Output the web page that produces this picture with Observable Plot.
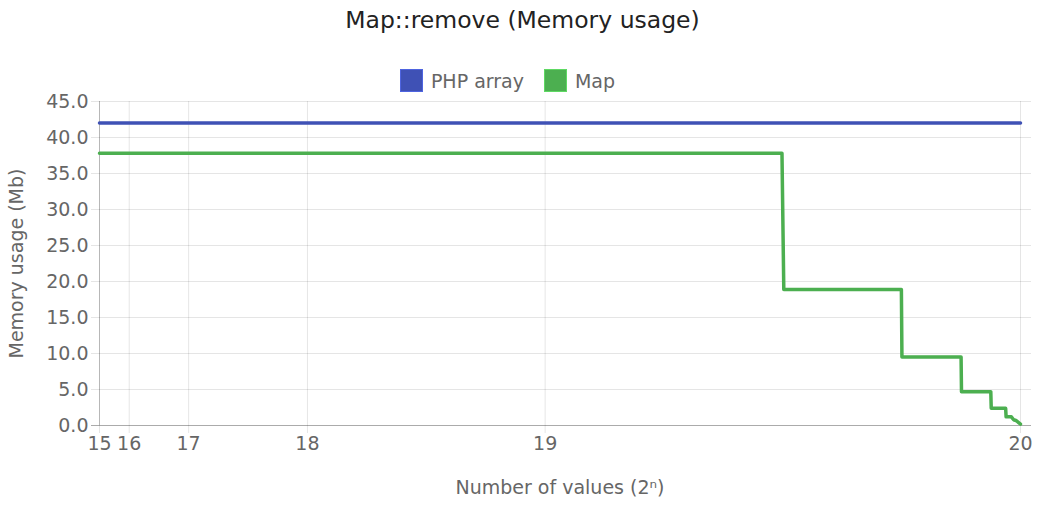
<!DOCTYPE html>
<html>
<head>
<meta charset="utf-8">
<script src="https://cdn.jsdelivr.net/npm/d3@7"></script>
<script src="https://cdn.jsdelivr.net/npm/@observablehq/plot@0.6"></script>
<style>
  html, body { margin: 0; padding: 0; background: #fff; }
  #wrap { width: 1045px; font-family: "DejaVu Sans", sans-serif; }
  #title { height: 40px; line-height: 40px; text-align: center; font-size: 23.5px; color: #222; }
  #legend { height: 52px; box-sizing: border-box; padding-top: 29px; padding-right: 30px; display: flex; justify-content: center; align-items: center; font-size: 19px; color: #666; }
  .item { display: flex; align-items: center; margin: 0 10px; height: 23px; }
  .sw { width: 23px; height: 23px; box-sizing: border-box; margin-right: 8px; }
  svg { display: block; overflow: visible; }
</style>
</head>
<body>
<div id="wrap">
  <div id="title"></div>
  <div id="legend"></div>
  <div id="chart"></div>
</div>
<script>
const chartTitle = "Map::remove (Memory usage)";
const seriesNames = ["PHP array", "Map"];
const seriesColors = ["#3F51B5", "#4CAF50"];
const xTicks = [32768, 65536, 131072, 262144, 524288, 1048576];
const xTickLabels = ["15", "16", "17", "18", "19", "20"];
const yTicks = [0, 5, 10, 15, 20, 25, 30, 35, 40, 45];
const phpX = [32768, 1048576];
const phpY = [42.0, 42.0];
const mapX = [32768, 785500, 787500, 917200, 917800, 983040, 983500, 1015808, 1016300, 1032192, 1032700, 1038500, 1041000, 1043500, 1048576];
const mapY = [37.8, 37.8, 18.9, 18.9, 9.5, 9.5, 4.7, 4.7, 2.4, 2.4, 1.2, 1.2, 0.8, 0.7, 0.2];

document.getElementById("title").textContent = chartTitle;
const legend = document.getElementById("legend");
seriesNames.forEach((n, i) => {
  const it = document.createElement("div");
  it.className = "item";
  const sw = document.createElement("div");
  sw.className = "sw";
  sw.style.background = seriesColors[i];
  sw.style.border = "1px solid " + d3.color(seriesColors[i]).brighter(0.6);
  const tx = document.createElement("span");
  tx.textContent = n;
  it.appendChild(sw); it.appendChild(tx);
  legend.appendChild(it);
});

const phpData = phpX.map((x, i) => ({x, y: phpY[i]}));
const mapData = mapX.map((x, i) => ({x, y: mapY[i]}));

const chart = Plot.plot({
  width: 1045,
  height: 414,
  marginTop: 9,
  marginBottom: 81,
  marginLeft: 99,
  marginRight: 25,
  style: {fontFamily: "DejaVu Sans, sans-serif", fontSize: "19px", color: "#666", background: "#fff", overflow: "visible"},
  x: {type: "linear", domain: [32768, 1048576]},
  y: {domain: [0, 45]},
  marks: [
    Plot.gridY(yTicks, {stroke: "#000", strokeOpacity: 0.1, insetLeft: -8, insetRight: -11}),
    Plot.gridX(xTicks, {stroke: "#000", strokeOpacity: 0.1, insetBottom: -8}),
    Plot.ruleX([xTicks[0]], {stroke: "#000", strokeOpacity: 0.2}),
    Plot.ruleY([0], {stroke: "#000", strokeOpacity: 0.25, insetLeft: -8, insetRight: -11}),
    Plot.axisY(yTicks, {tickSize: 0, tickPadding: 11, tickFormat: d => d.toFixed(1), fontSize: 19, fill: "#666",
      label: "Memory usage (Mb)", labelAnchor: "center", labelArrow: "none", labelOffset: 90}),
    Plot.axisX(xTicks, {tickSize: 0, tickPadding: 11, tickFormat: d => xTickLabels[xTicks.indexOf(d)], fontSize: 19, fill: "#666",
      label: "Number of values (2ⁿ)", labelAnchor: "center", labelArrow: "none", labelOffset: 68}),
    Plot.line(phpData, {x: "x", y: "y", stroke: seriesColors[0], strokeWidth: 3.5}),
    Plot.line(mapData, {x: "x", y: "y", stroke: seriesColors[1], strokeWidth: 3.5})
  ]
});
document.getElementById("chart").appendChild(chart);
</script>
</body>
</html>
